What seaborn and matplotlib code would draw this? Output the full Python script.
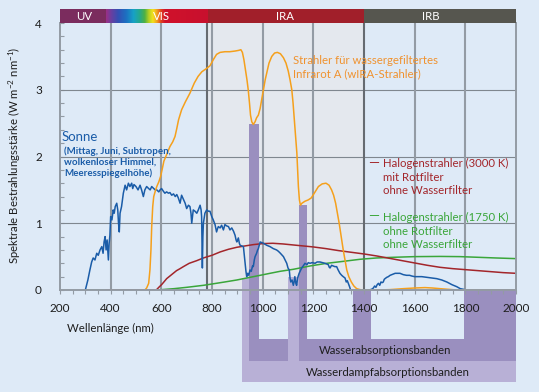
import numpy as np
import pandas as pd
import matplotlib
matplotlib.use("Agg")
import matplotlib.pyplot as plt
from matplotlib.colors import LinearSegmentedColormap
from matplotlib.patches import Rectangle
import seaborn as sns

# Sonne (Mittag, Juni, Subtropen) - wavelength (nm) / irradiance (W m-2 nm-1)
sun_nm = [300, 310, 318, 325, 331, 338, 345, 351, 358, 365, 370, 374, 378, 382, 386, 391, 394, 397,
          400, 405, 410, 414, 418, 424, 428, 431, 434, 437, 443, 450, 457, 463, 470, 476, 483, 487,
          492, 500, 508, 516, 522, 529, 535, 542, 550, 556, 562, 570, 576, 582, 590, 595, 601, 608,
          614, 621, 628, 634, 641, 648, 655, 661, 667, 674, 680, 687, 694, 700, 707, 713, 717, 720,
          723, 726, 733, 740, 746, 753, 757, 759, 762, 764, 766, 772, 779, 786, 792, 799, 805, 812,
          818, 822, 825, 832, 838, 845, 851, 858, 865, 871, 878, 885, 891, 895, 898, 904, 908, 911,
          918, 924, 928, 931, 934, 937, 941, 945, 950, 955, 960, 963, 967, 970, 976, 980, 983, 987,
          990, 997, 1003, 1016, 1029, 1042, 1055, 1062, 1070, 1082, 1090, 1095, 1100, 1105, 1108,
          1111, 1116, 1121, 1124, 1127, 1131, 1134, 1138, 1144, 1150, 1154, 1160, 1167, 1175, 1180,
          1187, 1195, 1207, 1215, 1226, 1236, 1246, 1253, 1259, 1263, 1266, 1272, 1279, 1285, 1292,
          1298, 1305, 1312, 1318, 1325, 1330, 1334, 1338, 1343, 1347, 1420, 1430, 1437, 1442, 1447,
          1452, 1457, 1462, 1467, 1472, 1476, 1480, 1483, 1490, 1496, 1503, 1510, 1516, 1523, 1530,
          1542, 1555, 1568, 1580, 1588, 1600, 1608, 1628, 1648, 1668, 1687, 1707, 1727, 1747, 1766,
          1780, 1793, 1800, 2000]
sun_val = [0, 0.15, 0.3, 0.42, 0.48, 0.45, 0.55, 0.52, 0.6, 0.65, 0.55, 0.72, 0.8, 0.6, 0.75, 0.45, 0.7, 0.82,
           1.1, 1.05, 1.2, 1.15, 1.25, 1.3, 1.2, 1.0, 0.87, 1.15, 1.25, 1.45, 1.57, 1.5, 1.6, 1.55, 1.6, 1.52,
           1.58, 1.55, 1.5, 1.57, 1.5, 1.4, 1.5, 1.55, 1.52, 1.5, 1.55, 1.52, 1.5, 1.5, 1.47, 1.5, 1.52, 1.48,
           1.45, 1.47, 1.45, 1.46, 1.42, 1.44, 1.4, 1.43, 1.38, 1.3, 1.42, 1.36, 1.3, 1.22, 1.27, 1.25, 1.15, 1.0,
           1.1, 1.2, 1.18, 1.15, 1.2, 1.27, 1.2, 1.1, 0.33, 0.8, 1.0, 1.15, 1.2, 1.18, 1.18, 1.1, 1.05, 0.98,
           0.87, 0.92, 0.95, 0.93, 0.97, 0.9, 0.98, 0.96, 0.95, 0.9, 0.93, 0.88, 0.82, 0.75, 0.72, 0.78, 0.7, 0.67,
           0.66, 0.65, 0.5, 0.4, 0.28, 0.2, 0.25, 0.22, 0.3, 0.28, 0.36, 0.35, 0.45, 0.5, 0.55, 0.6, 0.62, 0.68,
           0.72, 0.71, 0.7, 0.67, 0.65, 0.62, 0.6, 0.58, 0.55, 0.5, 0.44, 0.4, 0.33, 0.3, 0.18,
           0.12, 0.15, 0.07, 0.12, 0.2, 0.1, 0.07, 0.18, 0.25, 0.3, 0.33, 0.36, 0.4, 0.38, 0.41,
           0.4, 0.41, 0.4, 0.42, 0.42, 0.41, 0.4, 0.39, 0.38, 0.34, 0.33, 0.37, 0.36, 0.35, 0.35,
           0.3, 0.25, 0.22, 0.2, 0.18, 0.12, 0.14, 0.1, 0.05, 0, 0, 0.01, 0.03, 0.06, 0.04,
           0.08, 0.1, 0.07, 0.12, 0.11, 0.12, 0.16, 0.17, 0.19, 0.2, 0.22, 0.23, 0.24, 0.25, 0.25,
           0.25, 0.23, 0.22, 0.22, 0.21, 0.2, 0.2, 0.2, 0.19, 0.18, 0.17, 0.15, 0.12, 0.08, 0.05,
           0.02, 0.01, 0, 0]

# wIRA-Strahler
wira_nm = [535, 542, 550, 555, 559, 562, 566, 570, 576, 582, 590, 597, 604, 610, 621, 634, 645, 654, 661,
           668, 680, 695, 713, 730, 745, 760, 779, 792, 805, 818, 832, 851, 870, 891, 905, 914, 920, 926,
           932, 938, 943, 948, 952, 957, 963, 970, 976, 983, 990, 996, 1003, 1010, 1016, 1025, 1036, 1047,
           1058, 1070, 1082, 1092, 1101, 1108, 1115, 1120, 1125, 1130, 1135, 1138, 1141, 1145, 1149, 1155,
           1167, 1180, 1192, 1207, 1220, 1235, 1250, 1262, 1272, 1280, 1288, 1295, 1302, 1310, 1318, 1325,
           1332, 1340, 1350, 1360, 1371, 1385, 1400, 1450, 1500, 1555, 1600, 1641, 1670, 1700, 1740, 1766, 2000]
wira_val = [0, 0.03, 0.1, 0.3, 0.6, 0.95, 1.25, 1.4, 1.48, 1.55, 1.62, 1.7, 1.82, 1.93, 2.03, 2.15, 2.22, 2.3, 2.42,
            2.55, 2.7, 2.82, 2.95, 3.1, 3.2, 3.27, 3.32, 3.36, 3.45, 3.53, 3.56, 3.57, 3.57, 3.58, 3.59, 3.6, 3.56, 3.45,
            3.3, 3.15, 3.0, 2.8, 2.62, 2.52, 2.48, 2.52, 2.58, 2.62, 2.72, 2.85, 3.0, 3.15, 3.25, 3.4, 3.5, 3.55,
            3.56, 3.54, 3.48, 3.4, 3.28, 3.15, 3.0, 2.8, 2.55, 2.3, 2.05, 1.8, 1.55, 1.35, 1.27, 1.3,
            1.33, 1.35, 1.38, 1.47, 1.55, 1.59, 1.6, 1.57, 1.5, 1.42, 1.3, 1.15, 1.0, 0.8, 0.6, 0.45,
            0.3, 0.2, 0.12, 0.06, 0.02, 0.005, 0, 0, 0.005, 0.02, 0.03, 0.036, 0.03, 0.02, 0.008, 0, 0]

# Halogenstrahler 3000 K mit Rotfilter
halo3000_nm = [380, 580, 590, 601, 610, 621, 634, 647, 660, 674, 687, 710, 740, 766, 800, 832, 865, 898, 930,
               963, 1000, 1040, 1080, 1120, 1160, 1200, 1250, 1300, 1350, 1400, 1450, 1500, 1550, 1600, 1650,
               1700, 1750, 1800, 1850, 1900, 1950, 2000]
halo3000_val = [0, 0, 0.04, 0.08, 0.12, 0.17, 0.21, 0.25, 0.29, 0.32, 0.35, 0.4, 0.44, 0.48, 0.52, 0.57, 0.61, 0.64, 0.66,
                0.68, 0.695, 0.7, 0.69, 0.675, 0.66, 0.645, 0.62, 0.59, 0.565, 0.54, 0.51, 0.475, 0.44, 0.405, 0.37,
                0.34, 0.32, 0.305, 0.29, 0.275, 0.26, 0.25]

# Halogenstrahler 1750 K ohne Rotfilter
halo1750_nm = [300, 580, 600, 650, 700, 766, 800, 850, 898, 950, 990, 1029, 1069, 1121, 1187, 1253, 1320, 1384,
               1450, 1516, 1600, 1700, 1779, 1850, 1920, 2000]
halo1750_val = [0, 0, 0.005, 0.02, 0.04, 0.07, 0.09, 0.12, 0.15, 0.19, 0.22, 0.25, 0.28, 0.31, 0.36, 0.4, 0.43, 0.46,
                0.48, 0.49, 0.5, 0.503, 0.5, 0.49, 0.48, 0.47]

# spectral regions (nm)
region_names = ["UV", "VIS", "IRA", "IRB"]
region_edges = [200, 380, 780, 1400, 2000]

# water absorption bands (dark) and water vapour bands (light), nm
absorb_bands = [(947, 987), (1143, 1176), (1358, 1427), (1796, 2000)]
vapour_bands = [(919, 947), (1101, 1143)]
vapour_tops = [0.18, 0.2]

sns.set_theme(style="white")
plt.rcParams["font.family"] = ["Lato", "DejaVu Sans"]
plt.rcParams["mathtext.default"] = "regular"

BG = "#deeaf7"
DARK = "#9a8fbf"
LIGHT = "#b8b0d6"
GRID = "#939ba4"
TXT = "#1e1e1e"

fig = plt.figure(figsize=(5.39, 3.92), dpi=100, facecolor=BG)
ax = fig.add_axes([60 / 539, 1 - 290 / 392, 456 / 539, 281 / 392])
ax.set_facecolor(BG)

# IRA background
ax.axvspan(region_edges[2], region_edges[3], ymax=4.0 / 4.21, color="#e4e8ee", lw=0, zorder=0.2)

# grid
for y in [1, 2, 3]:
    ax.axhline(y, color="#7f878f", lw=0.8, zorder=0.6)
for x in [400, 600, 800, 1000, 1200, 1600, 1800]:
    ax.plot([x, x], [0, 4], color=GRID, lw=1.5, zorder=0.6)
for x in [780, 1400]:
    ax.plot([x, x], [0, 4], color="#666b71", lw=1.5, zorder=0.6)

# absorption bands above and below the axis
y_cut, y_abs, y_vap = -0.734, -1.06, -1.378
orange = pd.DataFrame({"nm": wira_nm, "val": wira_val})


def box(x0, x1, y0, y1, c):
    ax.add_patch(Rectangle((x0, y0), x1 - x0, y1 - y0, facecolor=c, edgecolor="none",
                           clip_on=False, zorder=0.8))


box(vapour_bands[0][0], 2000, y_vap, y_abs, LIGHT)
for (a, b), top in zip(vapour_bands, vapour_tops):
    box(a, b, y_abs if a > 1000 else y_vap, top, LIGHT)
box(absorb_bands[0][0], vapour_bands[1][0], y_abs, y_cut, DARK)
box(vapour_bands[1][1], 2000, y_abs, y_cut, DARK)
for a, b in absorb_bands:
    grid_nm = np.linspace(a, b, 50)
    top = np.interp(grid_nm, orange["nm"], orange["val"], left=0, right=0).min()
    box(a, b, y_cut, top, DARK)

ax.text(1482, -0.91, "Wasserabsorptionsbanden", ha="center", va="center", fontsize=8.2, color=TXT)
ax.text(1493, -1.24, "Wasserdampfabsorptionsbanden", ha="center", va="center", fontsize=8.2, color=TXT)

# spectral region bar on top
bar_cols = ["#7b2c5e", None, "#a11f2a", "#56564f"]
for i, name in enumerate(region_names):
    if bar_cols[i]:
        ax.add_patch(Rectangle((region_edges[i], 4.0), region_edges[i + 1] - region_edges[i], 0.21,
                               facecolor=bar_cols[i], edgecolor="none", zorder=3))
vis_cmap = LinearSegmentedColormap.from_list("vis", [
    (0.0, "#9a2f86"), (0.05, "#6a3fa0"), (0.12, "#3350b4"), (0.2, "#1c72c2"),
    (0.27, "#17a2c6"), (0.33, "#25a98c"), (0.38, "#4fb143"), (0.42, "#b5cf24"),
    (0.46, "#f2e21e"), (0.5, "#f2a01f"), (0.54, "#e2431f"), (0.58, "#d0122b"), (1.0, "#c8102e")])
ax.imshow(np.linspace(0, 1, 256)[None, :], cmap=vis_cmap, aspect="auto",
          extent=[region_edges[1], region_edges[2], 4.0, 4.21], zorder=3)
label_x = [297, 601, 1088, 1663]
for name, lx in zip(region_names, label_x):
    ax.text(lx, 4.105, name, ha="center", va="center", color="white", fontsize=8.2, zorder=4)

# curves
sns.lineplot(x=halo1750_nm, y=halo1750_val, ax=ax, color="#3aa63a", lw=1.1, estimator=None, zorder=2)
sns.lineplot(x=halo3000_nm, y=halo3000_val, ax=ax, color="#a3262b", lw=1.1, estimator=None, zorder=2.1)
sns.lineplot(x=sun_nm, y=sun_val, ax=ax, color="#1a5ca8", lw=1.1, estimator=None, zorder=2.2)
sns.lineplot(data=orange, x="nm", y="val", ax=ax, color="#f5a01c", lw=1.1, estimator=None, zorder=2.3)

# annotations
ax.text(208, 2.29, "Sonne", color="#1a5ca8", fontsize=9.5, va="center")
ax.text(216, 1.92, "(Mittag, Juni, Subtropen,\nwolkenloser Himmel,\nMeeresspiegelhöhe)",
        color="#1a5ca8", fontsize=7, va="center", linespacing=1.25, fontweight="bold")
ax.text(1120, 3.34, "Strahler für wassergefiltertes\nInfrarot A (wIRA-Strahler)",
        color="#f0922e", fontsize=8.2, va="center", linespacing=1.3)
ax.text(1436, 1.90, "—", color="#a3262b", fontsize=10, va="center", ha="center")
ax.text(1475, 1.69, "Halogenstrahler (3000 K)\nmit Rotfilter\nohne Wasserfilter",
        color="#a3262b", fontsize=8.2, va="center", linespacing=1.3)
ax.text(1436, 1.11, "—", color="#3aa63a", fontsize=10, va="center", ha="center")
ax.text(1475, 0.88, "Halogenstrahler (1750 K)\nohne Rotfilter\nohne Wasserfilter",
        color="#3aa63a", fontsize=8.2, va="center", linespacing=1.3)

# axes
ax.set_xlim(200, 2000)
ax.set_ylim(0, 4.21)
ax.set_xlabel("")
ax.set_ylabel("")
ax.set_xticks(range(200, 2001, 200))
ax.set_xticks(range(200, 2001, 50), minor=True)
ax.set_yticks([0, 1, 2, 3, 4])
ax.set_yticks(np.arange(0, 4.01, 0.2), minor=True)
ax.tick_params(axis="x", which="both", direction="out", length=3, width=0.8, color=GRID,
               labelsize=8.5, labelcolor=TXT, pad=6, bottom=True)
ax.tick_params(axis="y", which="both", direction="in", length=3, width=0.8, color=GRID,
               labelsize=8.5, labelcolor=TXT, pad=13, left=True)
ax.xaxis.set_zorder(5)
ax.spines["top"].set_visible(False)
for s in ["left", "right", "bottom"]:
    ax.spines[s].set_color(GRID)
    ax.spines[s].set_linewidth(1.4)
ax.spines["left"].set_bounds(0, 4)
ax.spines["right"].set_bounds(0, 4)

fig.text(110 / 539, 1 - 328 / 392, "Wellenlänge (nm)", ha="center", va="center", fontsize=8.2, color=TXT)
fig.text(15 / 539, 1 - 155 / 392, "Spektrale Bestrahlungsstärke (W m$^{-2}$ nm$^{-1}$)",
         rotation=90, ha="center", va="center", fontsize=8.2, color=TXT)

fig.savefig("out.png", dpi=100, facecolor=BG)
